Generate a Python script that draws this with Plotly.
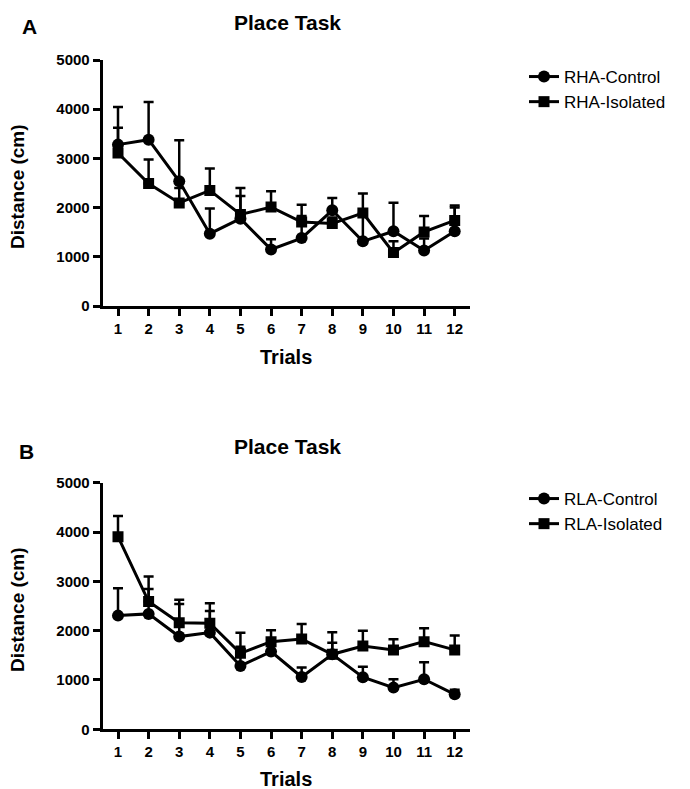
import plotly.graph_objects as go

trials = list(range(1, 13))
x_ticks = [str(t) for t in trials]
y_ticks = [0, 1000, 2000, 3000, 4000, 5000]

# Panel A (RHA)
rha_control = [3280, 3380, 2535, 1470, 1775, 1150, 1380, 1945, 1315, 1520, 1130, 1520]
rha_control_top = [4045, 4145, 3370, 1980, 2235, 1355, 1830, 2195, 1880, 2100, 1370, 2000]
rha_isolated = [3110, 2490, 2095, 2350, 1860, 2010, 1705, 1675, 1890, 1085, 1505, 1740]
rha_isolated_top = [3625, 2980, 2400, 2795, 2400, 2330, 2060, 1800, 2285, 1315, 1830, 2045]

# Panel B (RLA)
rla_control = [2305, 2340, 1880, 1960, 1285, 1575, 1060, 1520, 1055, 845, 1015, 710]
rla_control_top = [2860, 2845, 2540, 2400, 1675, 1700, 1255, 1757, 1270, 1015, 1360, 800]
rla_isolated = [3905, 2590, 2160, 2150, 1540, 1777, 1830, 1521, 1690, 1610, 1777, 1610]
rla_isolated_top = [4325, 3100, 2625, 2555, 1960, 2010, 2135, 1967, 2000, 1826, 2050, 1900]

W, H = 690, 789
def px(x):
    return x / W
def py(y):
    return 1 - y / H

FONT = "Liberation Sans, Arial, sans-serif"

fig = go.Figure()

def add_series(name, mean, top, symbol, size, xa, ya, legend):
    err = [t - m for t, m in zip(top, mean)]
    fig.add_trace(go.Scatter(
        x=trials, y=mean, name=name, mode="lines+markers",
        line=dict(color="black", width=3),
        marker=dict(symbol=symbol, size=size, color="black"),
        error_y=dict(type="data", symmetric=False, array=err,
                     arrayminus=[0] * len(err), color="black",
                     thickness=2.5, width=5),
        xaxis=xa, yaxis=ya, legend=legend,
    ))

add_series("RHA-Control", rha_control, rha_control_top, "circle", 12, "x", "y", "legend")
add_series("RHA-Isolated", rha_isolated, rha_isolated_top, "square", 11, "x", "y", "legend")
add_series("RLA-Control", rla_control, rla_control_top, "circle", 12, "x2", "y2", "legend2")
add_series("RLA-Isolated", rla_isolated, rla_isolated_top, "square", 11, "x2", "y2", "legend2")

xdom = [px(102.7), px(470)]
ydomA = [py(306), py(60)]
ydomB = [py(729.3), py(482.7)]

xcommon = dict(range=[0.5, 12.5], tickvals=trials, ticktext=x_ticks,
               showgrid=False, zeroline=False, showline=True,
               linecolor="black", linewidth=3, ticks="outside",
               ticklen=7, tickwidth=2.5, tickcolor="black",
               tickfont=dict(family=FONT, size=15, color="black", weight="bold"),
               domain=xdom, fixedrange=True, automargin=False)
ycommon = dict(range=[0, 5000], tickvals=y_ticks, ticktext=[str(v) for v in y_ticks],
               showgrid=False, zeroline=False, showline=True,
               linecolor="black", linewidth=3, ticks="outside",
               ticklen=7, tickwidth=2.5, tickcolor="black",
               tickfont=dict(family=FONT, size=15, color="black", weight="bold"),
               fixedrange=True, automargin=False)

fig.update_layout(
    width=W, height=H,
    margin=dict(l=0, r=0, t=0, b=0, pad=0, autoexpand=False),
    paper_bgcolor="white", plot_bgcolor="white",
    xaxis=dict(**xcommon, anchor="y"),
    yaxis=dict(**ycommon, domain=ydomA, anchor="x"),
    xaxis2=dict(**xcommon, anchor="y2"),
    yaxis2=dict(**ycommon, domain=ydomB, anchor="x2"),
    legend=dict(x=px(524), y=py(59), xanchor="left", yanchor="top",
                font=dict(family=FONT, size=17, color="black"),
                bgcolor="rgba(0,0,0,0)", tracegroupgap=0, itemwidth=30),
    legend2=dict(x=px(524), y=py(481), xanchor="left", yanchor="top",
                 font=dict(family=FONT, size=17, color="black"),
                 bgcolor="rgba(0,0,0,0)", tracegroupgap=0, itemwidth=30),
    showlegend=True,
)

annots = [
    dict(text="A", x=29, y=26, size=21),
    dict(text="B", x=26, y=451, size=21),
    dict(text="Place Task", x=287, y=23, size=21),
    dict(text="Place Task", x=287, y=446, size=21),
]
for a in annots:
    fig.add_annotation(text=a["text"], x=px(a["x"]), y=py(a["y"]), xref="paper", yref="paper",
                       showarrow=False, xanchor="center", yanchor="middle",
                       font=dict(family=FONT, size=a["size"], color="black", weight="bold"))

for ty in [357, 779]:
    fig.add_annotation(text="Trials", x=px(286), y=py(ty), xref="paper", yref="paper",
                       showarrow=False, xanchor="center", yanchor="middle",
                       font=dict(family=FONT, size=20, color="black", weight="bold"))
for cy in [187, 610]:
    fig.add_annotation(text="Distance (cm)", x=px(17), y=py(cy), xref="paper", yref="paper",
                       showarrow=False, xanchor="center", yanchor="middle", textangle=-90,
                       font=dict(family=FONT, size=19, color="black", weight="bold"))

fig.write_html("out.html")
